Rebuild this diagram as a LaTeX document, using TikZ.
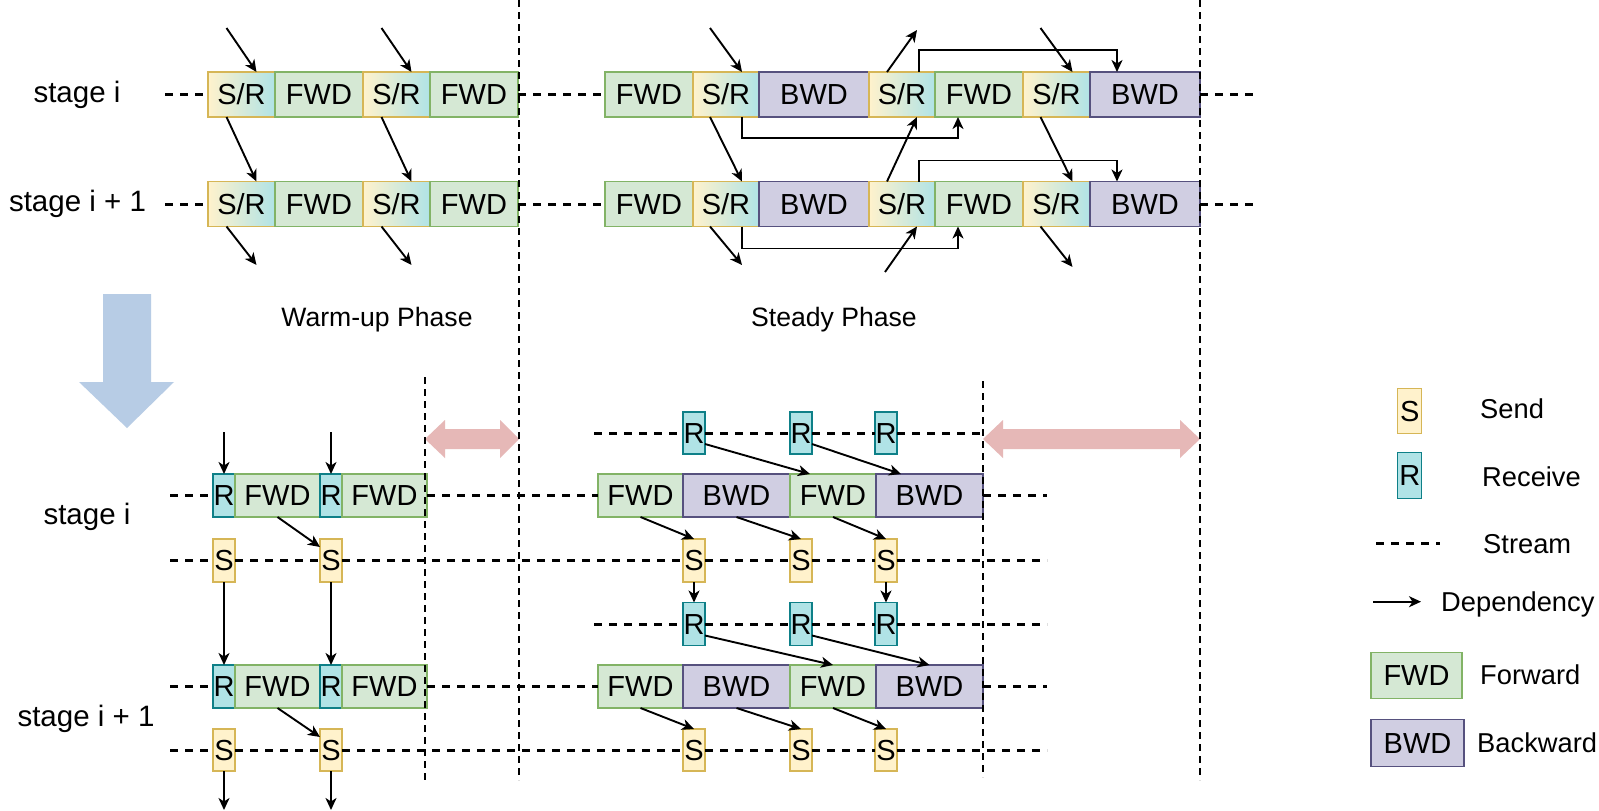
\documentclass[tikz,border=0pt]{standalone}
\usepackage{fontspec}
\setmainfont{Liberation Sans}
\usetikzlibrary{arrows.meta,calc}
\definecolor{fwdfill}{HTML}{D5E8D4}
\definecolor{fwdline}{HTML}{82B366}
\definecolor{bwdfill}{HTML}{D0CEE2}
\definecolor{bwdline}{HTML}{56517E}
\definecolor{sfill}{HTML}{FFF2CC}
\definecolor{sline}{HTML}{D6B656}
\definecolor{rfill}{HTML}{B0E3E6}
\definecolor{rline}{HTML}{0E8088}
\definecolor{shiftblue}{HTML}{B7CCE5}
\definecolor{gapred}{HTML}{E6B8B7}
\begin{document}
\begin{tikzpicture}[x=1pt,y=-1pt,
  blk/.style={inner sep=0pt, outer sep=0pt, line width=1.3pt,
    font=\fontsize{29}{30}\selectfont, text height=20.8pt, text depth=0pt},
  fwd/.style={blk, draw=fwdline, fill=fwdfill},
  bwd/.style={blk, draw=bwdline, fill=bwdfill},
  srbox/.style={blk, draw=sline, left color=sfill, right color=rfill},
  sbox/.style={blk, draw=sline, fill=sfill, minimum width=22pt},
  rbox/.style={blk, draw=rline, fill=rfill, minimum width=22pt},
  tall/.style={minimum height=45pt},
  low/.style={minimum height=43pt},
  dep/.style={-{Stealth[length=12pt,width=11pt,inset=3.5pt]}, line width=1.9pt},
  stream/.style={line width=3pt, dash pattern=on 8pt off 7pt},
  phase/.style={line width=2.1pt, dash pattern=on 7pt off 5pt},
  lbl/.style={inner sep=0pt, anchor=base, font=\fontsize{29.5}{31}\selectfont},
  phaselbl/.style={inner sep=0pt, font=\fontsize{26.6}{28}\selectfont,
    text height=19pt, text depth=0pt},
  legtxt/.style={inner sep=0pt, anchor=west, font=\fontsize{27.3}{29}\selectfont,
    text height=19.5pt, text depth=0pt},
]
\fill[white] (0,0) rectangle (1599,811);
\useasboundingbox (0,0) rectangle (1599,811);

% ---------- upper half: combined send/receive ----------
\foreach \r/\y in {1/94.5,2/204}{
  \node[srbox,tall,minimum width=67pt] (w\r-s1) at (241.5,\y) {S/R};
  \node[fwd,tall,minimum width=88pt]   (w\r-f1) at (319,\y)   {FWD};
  \node[srbox,tall,minimum width=67pt] (w\r-s2) at (396.5,\y) {S/R};
  \node[fwd,tall,minimum width=88pt]   (w\r-f2) at (474,\y)   {FWD};
  \node[fwd,tall,minimum width=88pt]   (t\r-f1) at (649,\y)   {FWD};
  \node[srbox,tall,minimum width=66pt] (t\r-s1) at (726,\y)   {S/R};
  \node[bwd,tall,minimum width=110pt]  (t\r-b1) at (814,\y)   {BWD};
  \node[srbox,tall,minimum width=66pt] (t\r-s2) at (902,\y)   {S/R};
  \node[fwd,tall,minimum width=88pt]   (t\r-f2) at (979,\y)   {FWD};
  \node[srbox,tall,minimum width=67pt] (t\r-s3) at (1056.5,\y) {S/R};
  \node[bwd,tall,minimum width=110pt]  (t\r-b2) at (1145,\y)  {BWD};
  \coordinate (w\r-l) at (165,\y);
  \coordinate (w\r-e) at (1257,\y);
  \draw[stream] (w\r-l) -- (w\r-s1.west);
  \draw[stream] (w\r-f2.east) -- (t\r-f1.west);
  \draw[stream] (t\r-b2.east) -- (w\r-e);
}

\node[lbl] (st1) at (77,102.7) {stage i};
\node[lbl] (st2) at (77.5,211.7) {stage i + 1};
\node[phaselbl] (warm) at (377,317) {Warm-up Phase};
\node[phaselbl] (steady) at (834,317) {Steady Phase};

% warm-up dependencies
\coordinate (in1) at (226.5,28);
\coordinate (in2) at (381.5,28);
\coordinate (out1) at (256.5,265);
\coordinate (out2) at (411.5,265);
\draw[dep] (in1) -- ([xshift=15pt]w1-s1.north);
\draw[dep] (in2) -- ([xshift=15pt]w1-s2.north);
\draw[dep] ([xshift=-15pt]w1-s1.south) -- ([xshift=15pt]w2-s1.north);
\draw[dep] ([xshift=-15pt]w1-s2.south) -- ([xshift=15pt]w2-s2.north);
\draw[dep] ([xshift=-15pt]w2-s1.south) -- (out1);
\draw[dep] ([xshift=-15pt]w2-s2.south) -- (out2);

% steady dependencies
\coordinate (in3) at (710,28);
\coordinate (in4) at (1040.5,28);
\coordinate (out3) at (742,265);
\coordinate (out4) at (1072.5,267);
\coordinate (up1) at (917,30);
\coordinate (up2) at (885,272);
\draw[dep] (in3) -- ([xshift=16pt]t1-s1.north);
\draw[dep] ([xshift=-16pt]t1-s1.south) -- ([xshift=16pt]t2-s1.north);
\draw[dep] ([xshift=-16pt]t2-s1.south) -- (out3);
\draw[dep] (in4) -- ([xshift=16pt]t1-s3.north);
\draw[dep] ([xshift=-16pt]t1-s3.south) -- ([xshift=16pt]t2-s3.north);
\draw[dep] ([xshift=-16pt]t2-s3.south) -- (out4);
\draw[dep] ([xshift=-15pt]t1-s2.north) -- (up1);
\draw[dep] ([xshift=-15pt]t2-s2.north) -- ([xshift=15pt]t1-s2.south);
\draw[dep] (up2) -- ([xshift=15pt]t2-s2.south);
\draw[dep] ([xshift=16pt]t1-s1.south) -- ++(0,21) -| ([xshift=-21pt]t1-f2.south);
\draw[dep] ([xshift=16pt]t2-s1.south) -- ++(0,22) -| ([xshift=-21pt]t2-f2.south);
\draw[dep] ([xshift=17pt]t1-s2.north) -- ++(0,-22) -| ([xshift=-28pt]t1-b2.north);
\draw[dep] ([xshift=17pt]t2-s2.north) -- ++(0,-21) -| ([xshift=-28pt]t2-b2.north);

% transition arrow
\fill[shiftblue] (103,294) -- (151,294) -- (151,382) -- (174,382) -- (127,428)
  -- (79,382) -- (103,382) -- cycle;

% ---------- lower half: separate send and receive streams ----------
% stage i
\node[rbox,low] (lr1) at (224,495.5) {R};
\node[fwd,low,minimum width=85pt] (lf1) at (277.5,495.5) {FWD};
\node[rbox,low] (lr2) at (331,495.5) {R};
\node[fwd,low,minimum width=85pt] (lf2) at (384.5,495.5) {FWD};
\node[sbox,low] (ls1) at (224,560.5) {S};
\node[sbox,low] (ls2) at (331,560.5) {S};

\node[rbox,minimum height=42pt] (rr1) at (694,433) {R};
\node[rbox,minimum height=42pt] (rr2) at (801,433) {R};
\node[rbox,minimum height=42pt] (rr3) at (886,433) {R};
\node[fwd,low,minimum width=85pt]  (rf1) at (640.5,495.5) {FWD};
\node[bwd,low,minimum width=107pt] (rb1) at (736.5,495.5) {BWD};
\node[fwd,low,minimum width=86pt]  (rf2) at (833,495.5)   {FWD};
\node[bwd,low,minimum width=107pt] (rb2) at (929.5,495.5) {BWD};
\node[sbox,low] (rs1) at (694,560.5) {S};
\node[sbox,low] (rs2) at (801,560.5) {S};
\node[sbox,low] (rs3) at (886,560.5) {S};

% stage i + 1
\node[rbox,low] (mr1) at (224,686.5) {R};
\node[fwd,low,minimum width=85pt] (mf1) at (277.5,686.5) {FWD};
\node[rbox,low] (mr2) at (331,686.5) {R};
\node[fwd,low,minimum width=85pt] (mf2) at (384.5,686.5) {FWD};
\node[sbox,minimum height=42pt] (ms1) at (224,750) {S};
\node[sbox,minimum height=42pt] (ms2) at (331,750) {S};

\node[rbox,low] (qr1) at (694,624) {R};
\node[rbox,low] (qr2) at (801,624) {R};
\node[rbox,low] (qr3) at (886,624) {R};
\node[fwd,low,minimum width=85pt]  (qf1) at (640.5,686.5) {FWD};
\node[bwd,low,minimum width=107pt] (qb1) at (736.5,686.5) {BWD};
\node[fwd,low,minimum width=86pt]  (qf2) at (833,686.5)   {FWD};
\node[bwd,low,minimum width=107pt] (qb2) at (929.5,686.5) {BWD};
\node[sbox,minimum height=42pt] (qs1) at (694,750) {S};
\node[sbox,minimum height=42pt] (qs2) at (801,750) {S};
\node[sbox,minimum height=42pt] (qs3) at (886,750) {S};

\node[lbl] (st3) at (87,524) {stage i};
\node[lbl] (st4) at (86,726) {stage i + 1};

% streams
\coordinate (bl1) at (170,495.5);  \coordinate (be1) at (1047,495.5);
\coordinate (bl2) at (170,560.5);  \coordinate (be2) at (1047,560.5);
\coordinate (bl3) at (170,686.5);  \coordinate (be3) at (1047,686.5);
\coordinate (bl4) at (170,750);    \coordinate (be4) at (1047,750);
\coordinate (rl1) at (594,433);    \coordinate (re1) at (983,433);
\coordinate (rl2) at (594,624);    \coordinate (re2) at (1047,624);
\draw[stream] (bl1) -- (lr1.west);
\draw[stream] (lf2.east) -- (rf1.west);
\draw[stream] (rb2.east) -- (be1);
\draw[stream] (bl2) -- (ls1.west);
\draw[stream] (ls1.east) -- (ls2.west);
\draw[stream] (ls2.east) -- (rs1.west);
\draw[stream] (rs1.east) -- (rs2.west);
\draw[stream] (rs2.east) -- (rs3.west);
\draw[stream] (rs3.east) -- (be2);
\draw[stream] (rl1) -- (rr1.west);
\draw[stream] (rr1.east) -- (rr2.west);
\draw[stream] (rr2.east) -- (rr3.west);
\draw[stream] (rr3.east) -- (re1);
\draw[stream] (rl2) -- (qr1.west);
\draw[stream] (qr1.east) -- (qr2.west);
\draw[stream] (qr2.east) -- (qr3.west);
\draw[stream] (qr3.east) -- (re2);
\draw[stream] (bl3) -- (mr1.west);
\draw[stream] (mf2.east) -- (qf1.west);
\draw[stream] (qb2.east) -- (be3);
\draw[stream] (bl4) -- (ms1.west);
\draw[stream] (ms1.east) -- (ms2.west);
\draw[stream] (ms2.east) -- (qs1.west);
\draw[stream] (qs1.east) -- (qs2.west);
\draw[stream] (qs2.east) -- (qs3.west);
\draw[stream] (qs3.east) -- (be4);

% dependencies
\coordinate (lin1) at (224,432);
\coordinate (lin2) at (331,432);
\coordinate (lout1) at (224,810);
\coordinate (lout2) at (331,810);
\draw[dep] (lin1) -- (lr1.north);
\draw[dep] (lin2) -- (lr2.north);
\draw[dep] (lf1.south) -- ([yshift=-8pt]ls2.north west);
\draw[dep] (ls1.south) -- (mr1.north);
\draw[dep] (ls2.south) -- (mr2.north);
\draw[dep] (mf1.south) -- ([yshift=-8pt]ms2.north west);
\draw[dep] (ms1.south) -- (lout1);
\draw[dep] (ms2.south) -- (lout2);

\draw[dep] ([yshift=10pt]rr1.south east) -- ([xshift=20pt]rf2.north west);
\draw[dep] ([yshift=10pt]rr2.south east) -- ([xshift=25pt]rb2.north west);
\draw[dep] (rf1.south) -- (rs1.north);
\draw[dep] (rb1.south) -- (rs2.north);
\draw[dep] (rf2.south) -- (rs3.north);
\draw[dep] (rs1.south) -- (qr1.north);
\draw[dep] (rs3.south) -- (qr3.north);
\draw[dep] ([yshift=10pt]qr1.south east) -- (qf2.north);
\draw[dep] ([yshift=10pt]qr2.south east) -- (qb2.north);
\draw[dep] (qf1.south) -- (qs1.north);
\draw[dep] (qb1.south) -- (qs2.north);
\draw[dep] (qf2.south) -- (qs3.north);

% gap markers
\fill[gapred] (425,439) -- (445,420) -- (445,429) -- (500,429) -- (500,420)
  -- (519,439) -- (500,458) -- (500,449) -- (445,449) -- (445,458) -- cycle;
\fill[gapred] (983,439) -- (1003,420) -- (1003,429) -- (1180,429) -- (1180,420)
  -- (1200,439) -- (1180,458) -- (1180,449) -- (1003,449) -- (1003,458) -- cycle;

% phase boundaries
\draw[phase] (519,0) -- (519,780);
\draw[phase] (1200,0) -- (1200,780);
\draw[phase] (425,377) -- (425,783);
\draw[phase] (983,381) -- (983,777);

% ---------- legend ----------
\node[sbox,minimum width=24pt,minimum height=45pt] (kS) at (1409.7,410.8) {S};
\node[legtxt] (kSt) at (1480,408.5) {Send};
\node[rbox,minimum width=24pt,minimum height=46pt] (kR) at (1409.8,475.5) {R};
\node[legtxt] (kRt) at (1482,477) {Receive};
\coordinate (kL1) at (1376,543.5);
\coordinate (kL2) at (1440,543.5);
\draw[stream] (kL1) -- (kL2);
\node[legtxt] (kLt) at (1483,543.5) {Stream};
\coordinate (kD1) at (1373,601.7);
\coordinate (kD2) at (1421,601.7);
\draw[dep] (kD1) -- (kD2);
\node[legtxt] (kDt) at (1441,602) {Dependency};
\node[fwd,minimum width=91pt,minimum height=46pt] (kF) at (1416.5,675.5) {FWD};
\node[legtxt] (kFt) at (1480,675) {Forward};
\node[bwd,minimum width=93pt,minimum height=47pt] (kB) at (1417.5,743.3) {BWD};
\node[legtxt] (kBt) at (1477,743) {Backward};
\end{tikzpicture}
\end{document}
